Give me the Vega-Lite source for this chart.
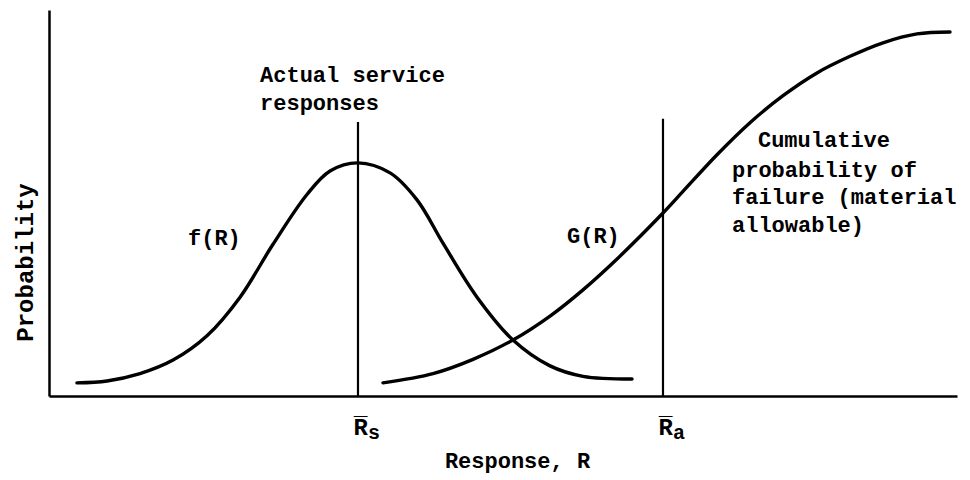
{
  "$schema": "https://vega.github.io/schema/vega-lite/v6.json",
  "width": 908,
  "height": 386,
  "autosize": {"type": "none"},
  "padding": {"left": 49, "top": 10, "right": 13, "bottom": 84},
  "background": "white",
  "config": {
    "view": {"stroke": null},
    "font": "Liberation Mono",
    "text": {"font": "Liberation Mono", "color": "black"}
  },
  "datasets": {
    "curves": [
      {"r": 3.08, "p": 0.034, "curve": "f(R)"},
      {"r": 6.39, "p": 0.039, "curve": "f(R)"},
      {"r": 10.02, "p": 0.058, "curve": "f(R)"},
      {"r": 13.66, "p": 0.093, "curve": "f(R)"},
      {"r": 17.40, "p": 0.156, "curve": "f(R)"},
      {"r": 21.04, "p": 0.256, "curve": "f(R)"},
      {"r": 24.67, "p": 0.393, "curve": "f(R)"},
      {"r": 28.41, "p": 0.522, "curve": "f(R)"},
      {"r": 30.95, "p": 0.583, "curve": "f(R)"},
      {"r": 34.03, "p": 0.604, "curve": "f(R)"},
      {"r": 37.56, "p": 0.578, "curve": "f(R)"},
      {"r": 40.53, "p": 0.508, "curve": "f(R)"},
      {"r": 43.39, "p": 0.396, "curve": "f(R)"},
      {"r": 47.14, "p": 0.256, "curve": "f(R)"},
      {"r": 51.10, "p": 0.145, "curve": "f(R)"},
      {"r": 55.18, "p": 0.078, "curve": "f(R)"},
      {"r": 58.81, "p": 0.051, "curve": "f(R)"},
      {"r": 64.21, "p": 0.044, "curve": "f(R)"},
      {"r": 36.78, "p": 0.034, "curve": "G(R)"},
      {"r": 42.29, "p": 0.058, "curve": "G(R)"},
      {"r": 46.70, "p": 0.095, "curve": "G(R)"},
      {"r": 51.10, "p": 0.145, "curve": "G(R)"},
      {"r": 55.18, "p": 0.207, "curve": "G(R)"},
      {"r": 58.81, "p": 0.275, "curve": "G(R)"},
      {"r": 62.56, "p": 0.355, "curve": "G(R)"},
      {"r": 67.62, "p": 0.474, "curve": "G(R)"},
      {"r": 69.82, "p": 0.530, "curve": "G(R)"},
      {"r": 73.57, "p": 0.625, "curve": "G(R)"},
      {"r": 77.20, "p": 0.708, "curve": "G(R)"},
      {"r": 80.84, "p": 0.778, "curve": "G(R)"},
      {"r": 84.58, "p": 0.837, "curve": "G(R)"},
      {"r": 88.22, "p": 0.880, "curve": "G(R)"},
      {"r": 91.85, "p": 0.915, "curve": "G(R)"},
      {"r": 95.59, "p": 0.938, "curve": "G(R)"},
      {"r": 99.23, "p": 0.943, "curve": "G(R)"}
    ],
    "means": [
      {"r": 34.03, "p0": 0, "p1": 0.710, "sub": "s"},
      {"r": 67.62, "p0": 0, "p1": 0.718, "sub": "a"}
    ],
    "notes": [
      {"r": 23.24, "p": 0.832, "text": "Actual service"},
      {"r": 23.24, "p": 0.759, "text": "responses"},
      {"r": 15.31, "p": 0.409, "text": "f(R)"},
      {"r": 57.05, "p": 0.415, "text": "G(R)"},
      {"r": 78.08, "p": 0.663, "text": "Cumulative"},
      {"r": 75.22, "p": 0.585, "text": "probability of"},
      {"r": 75.22, "p": 0.516, "text": "failure (material"},
      {"r": 75.22, "p": 0.443, "text": "allowable)"}
    ]
  },
  "layer": [
    {
      "data": {"name": "curves"},
      "mark": {"type": "line", "interpolate": "catmull-rom", "stroke": "black", "strokeWidth": 3.4, "strokeCap": "round"},
      "encoding": {
        "x": {
          "field": "r",
          "type": "quantitative",
          "scale": {"domain": [0, 100], "nice": false, "zero": false},
          "axis": {
            "values": [34.03, 67.62],
            "labelExpr": "'R\u0305'",
            "ticks": false,
            "tickSize": 0,
            "grid": false,
            "domainColor": "black",
            "domainWidth": 2.5,
            "labelFont": "Liberation Mono",
            "labelFontSize": 24,
            "labelFontWeight": "bold",
            "labelColor": "black",
            "labelAlign": "left",
            "labelOffset": -5,
            "labelBaseline": "middle",
            "labelPadding": 31,
            "title": "Response, R",
            "titleFont": "Liberation Mono",
            "titleFontSize": 22,
            "titleFontWeight": "bold",
            "titleColor": "black",
            "titleBaseline": "middle",
            "titleX": 468,
            "titleY": 64
          }
        },
        "y": {
          "field": "p",
          "type": "quantitative",
          "scale": {"domain": [0, 1], "nice": false},
          "axis": {
            "labels": false,
            "ticks": false,
            "tickSize": 0,
            "grid": false,
            "domainColor": "black",
            "domainWidth": 2.5,
            "title": "Probability",
            "titleFont": "Liberation Mono",
            "titleFontSize": 24,
            "titleFontWeight": "bold",
            "titleColor": "black",
            "titleBaseline": "middle",
            "titleX": -24,
            "titleY": 252
          }
        },
        "detail": {"field": "curve"}
      }
    },
    {
      "data": {"name": "means"},
      "mark": {"type": "rule", "stroke": "black", "strokeWidth": 2.2},
      "encoding": {
        "x": {"field": "r", "type": "quantitative"},
        "y": {"field": "p0", "type": "quantitative"},
        "y2": {"field": "p1"}
      }
    },
    {
      "data": {"name": "means"},
      "mark": {"type": "text", "fontSize": 20, "fontWeight": "bold", "align": "left", "baseline": "middle", "dx": 10, "dy": 37},
      "encoding": {
        "x": {"field": "r", "type": "quantitative"},
        "y": {"field": "p0", "type": "quantitative"},
        "text": {"field": "sub"}
      }
    },
    {
      "data": {"name": "notes"},
      "mark": {"type": "text", "fontSize": 22, "fontWeight": "bold", "align": "left", "baseline": "middle"},
      "encoding": {
        "x": {"field": "r", "type": "quantitative"},
        "y": {"field": "p", "type": "quantitative"},
        "text": {"field": "text"}
      }
    }
  ]
}
